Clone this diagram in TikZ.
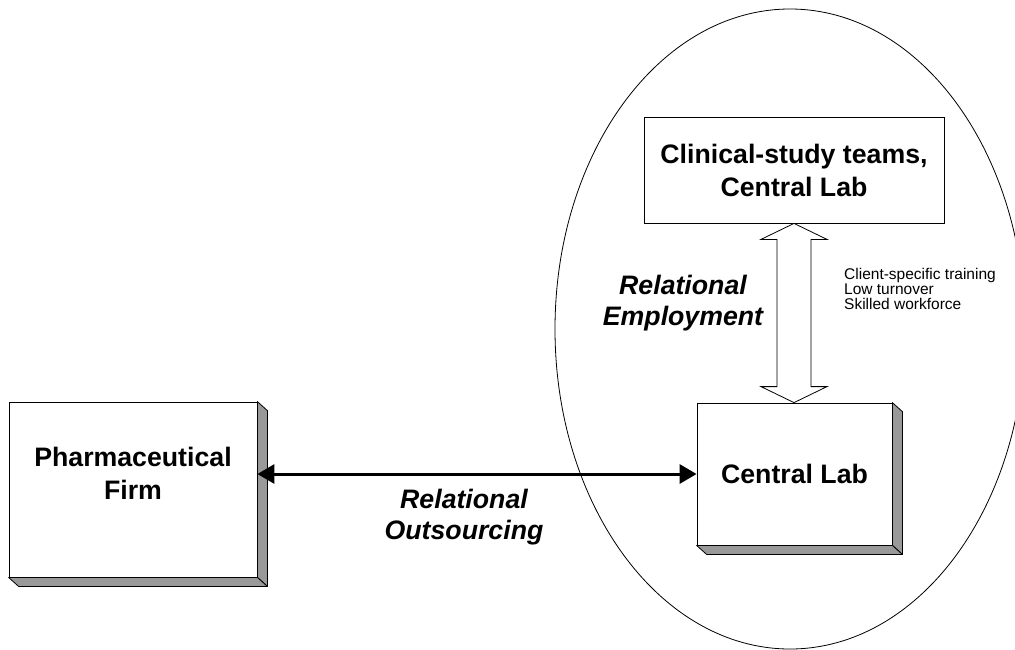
\documentclass[tikz,border=0pt]{standalone}
\usepackage{fontspec}
\setmainfont{Liberation Sans}
\usetikzlibrary{arrows.meta,calc}
\definecolor{shadowgray}{RGB}{153,153,153}
\begin{document}
\begin{tikzpicture}[x=1pt,y=-1pt,
  box/.style={draw,line width=0.8pt,fill=white,inner sep=0pt,align=center,
    font=\bfseries\fontsize{26.7}{33}\selectfont},
  shade/.style={fill=shadowgray,draw,line width=0.8pt,line join=round},
  biglabel/.style={align=center,inner sep=0pt,
    font=\bfseries\itshape\fontsize{26.7}{31}\selectfont},
  notes/.style={align=left,inner sep=0pt,font=\fontsize{15.5}{15}\selectfont},
  thinline/.style={line width=0.8pt},
  bigtip/.tip={Triangle[length=17pt,width=19pt]}]
\useasboundingbox (0,0) rectangle (1015,649);

% ellipse
\draw[thinline] (790,329) ellipse [x radius=235, y radius=320];

% boxes
\node[box,minimum width=248pt,minimum height=175pt] (firm) at (133,489.5) {};
\node[box,minimum width=195pt,minimum height=142pt] (lab) at (794.5,474) {Central Lab};
\node[box,minimum width=300pt,minimum height=106pt] (top) at (794,170) {Clinical-study teams,\\Central Lab};

% shadows
\foreach \b in {firm,lab}{
  \filldraw[shade] (\b.north east) -- ++(10,9) -- ($(\b.south east)+(10,9)$) -- (\b.south east) -- cycle;
  \filldraw[shade] (\b.south west) -- (\b.south east) -- ($(\b.south east)+(10,9)$) -- ($(\b.south west)+(10,9)$) -- cycle;
}

\node[align=center,inner sep=0pt,font=\bfseries\fontsize{26.7}{33}\selectfont] (firmlabel) at (133,473) {Pharmaceutical\\Firm};

% horizontal double arrow
\draw[line width=3pt,bigtip-bigtip] (lab.west -| firm.east) -- (lab.west);

% hollow double arrow
\coordinate (atop) at (top.south);
\coordinate (abot) at (top.south |- lab.north);
\draw[thinline,fill=white,line join=miter] (atop) -- ++(33,16) -- ++(-16,0)
  -- ($(abot)+(17,-16)$) -- ++(16,0) -- (abot) -- ++(-33,-16) -- ++(16,0)
  -- ($(atop)+(-17,16)$) -- ++(-16,0) -- cycle;

% labels
\node[biglabel] (emp) at (683,303.5) {Relational\\Employment};
\node[biglabel] (out) at (464,517.5) {Relational\\Outsourcing};
\node[notes,anchor=north west] (facts) at (844,268) {Client-specific training\\Low turnover\\Skilled workforce};
\end{tikzpicture}
\end{document}
